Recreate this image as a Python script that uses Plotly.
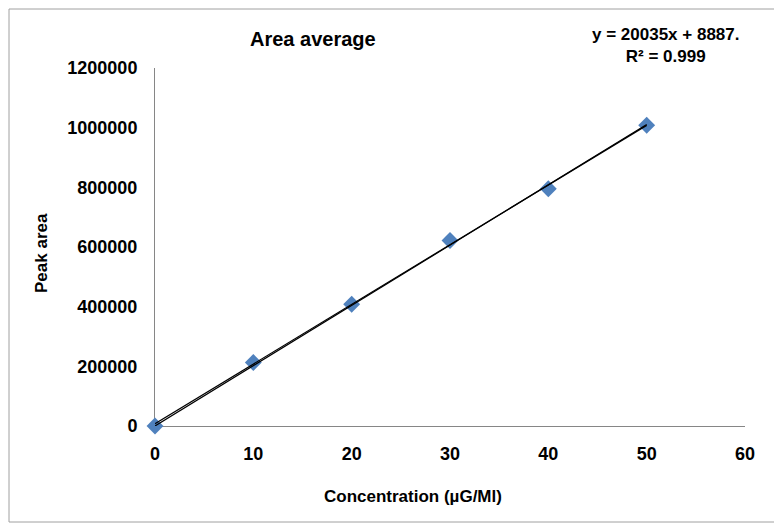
import numpy as np
import plotly.graph_objects as go

concentration = [0, 10, 20, 30, 40, 50]
peak_area = [0, 213000, 408000, 622000, 795000, 1008000]
x_ticks = [0, 10, 20, 30, 40, 50, 60]
y_ticks = [0, 200000, 400000, 600000, 800000, 1000000, 1200000]
equation_text = "y = 20035x + 8887.<br>R² = 0.999"

x = np.array(concentration, dtype=float)
y = np.array(peak_area, dtype=float)
slope, intercept = np.polyfit(x, y, 1)
slope0 = float((x * y).sum() / (x * x).sum())
xl = np.array([x.min(), x.max()])

FONT = "Liberation Sans"
fig = go.Figure()
fig.add_trace(go.Scatter(x=concentration, y=peak_area, mode="markers",
                         cliponaxis=False,
                         marker=dict(symbol="diamond", size=13, color="#4f81bd",
                                     line=dict(width=0))))
fig.add_trace(go.Scatter(x=xl, y=slope0 * xl, mode="lines", cliponaxis=False,
                         line=dict(color="black", width=1.2), hoverinfo="skip"))
fig.add_trace(go.Scatter(x=xl, y=slope * xl + intercept, mode="lines",
                         cliponaxis=False,
                         line=dict(color="black", width=1.2), hoverinfo="skip"))


def ann(text, px, py, size, angle=0):
    return dict(text=text, xref="paper", yref="paper",
                x=(px - 155) / 590, y=(426 - py) / 358, showarrow=False,
                xanchor="center", yanchor="middle", textangle=angle,
                font=dict(family=FONT, size=size, color="black", weight="bold"))


fig.update_layout(
    width=774, height=521,
    margin=dict(l=147, r=37, t=60, b=103),
    paper_bgcolor="white", plot_bgcolor="white",
    showlegend=False,
    font=dict(family=FONT, color="black"),
    xaxis=dict(range=[0, 60], tickvals=x_ticks, showgrid=False, zeroline=False,
               showline=True, linecolor="#868686", linewidth=1, ticks="",
               tickfont=dict(family=FONT, size=18, color="black", weight="bold"),
               ticklabelstandoff=11, layer="below traces"),
    yaxis=dict(range=[0, 1200000], tickvals=y_ticks, tickformat="d",
               showgrid=False, zeroline=False,
               showline=True, linecolor="#868686", linewidth=1, ticks="",
               tickfont=dict(family=FONT, size=18, color="black", weight="bold"),
               ticklabelstandoff=13, layer="below traces"),
    annotations=[
        ann("Area average", 313, 39, 20),
        ann(equation_text, 665, 46, 17),
        ann("Concentration (µG/Ml)", 413, 496, 17),
        ann("Peak area", 42, 253, 17, -90),
    ],
    shapes=[dict(type="rect", xref="paper", yref="paper",
                 x0=(9 - 155) / 590, x1=(778 - 155) / 590,
                 y0=(426 - 522) / 358, y1=(426 - 9) / 358,
                 line=dict(color="#a0a0a0", width=1))],
)

fig.write_html("out.html")
